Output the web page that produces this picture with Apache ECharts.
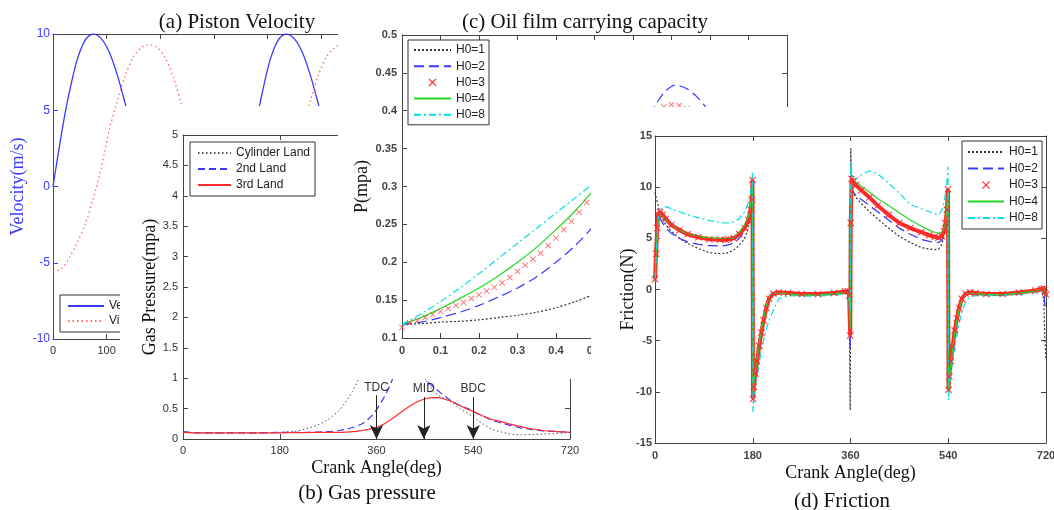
<!DOCTYPE html>
<html><head><meta charset="utf-8">
<script src="https://cdn.jsdelivr.net/npm/echarts@6/dist/echarts.min.js"></script>
<style>html,body{margin:0;padding:0;background:#fff}#c{width:1054px;height:510px}</style>
</head><body><div id="c"></div>
<script>
// ---------- (a) Piston velocity ----------
const velAngle = [0,10,20,30,45,60,75,90,105,120,135,150,165,180,210,240,270,300,330,360,370,380,390,405,420,435,450,465,480,495,510,525,540,570,600,630,660,690,720];
const velocity = [0,2.2,4.3,6.1,8.3,9.6,10,9.7,8.8,7.3,5.4,3.4,1.7,0,-4,-7,-8,-7.3,-4.5,0,2.2,4.3,6.1,8.3,9.6,10,9.7,8.8,7.3,5.4,3.4,1.7,0,-4,-7,-8,-7.3,-4.5,0];
const visAngle = [0,15,30,45,60,75,90,105,120,135,150,165,180,195,210,225,240,255,270,300,330,360,375,390,405,420,435,450,465,480,495,510,525,540,555,570,600,660,720];
const viscous = [-5.6,-5.4,-4.7,-3.7,-2.5,-0.8,1.2,3.7,5.6,7.3,8.5,9.1,9.3,9.1,8.4,7.1,5.3,3.0,0.5,-3,-5,-5.6,-5.4,-4.7,-3.7,-2.5,-0.8,1.2,3.7,5.6,7.3,8.5,9.1,9.3,9.1,8.4,5.3,-3,-5.6];

// ---------- (b) Gas pressure ----------
const gasAngle = [0,30,60,90,120,150,180,210,230,250,270,290,305,315,325,335,345,355,365,375,385,395,410,425,440,455,465,475,485,500,515,530,545,560,575,590,610,630,650,670,690,710,720];
const cylinderLand = [0.11,0.1,0.1,0.1,0.1,0.1,0.11,0.13,0.17,0.23,0.32,0.47,0.64,0.78,0.95,1.2,1.7,2.6,3.5,3.8,3.3,2.6,1.9,1.4,1.1,0.92,0.8,0.72,0.67,0.6,0.5,0.42,0.33,0.24,0.16,0.12,0.08,0.07,0.075,0.08,0.09,0.1,0.11];
const secondLand = [0.12,0.1,0.1,0.1,0.1,0.1,0.11,0.11,0.11,0.115,0.12,0.14,0.165,0.19,0.22,0.26,0.33,0.42,0.55,0.7,0.88,1.1,1.35,1.3,1.12,0.95,0.86,0.79,0.72,0.62,0.55,0.5,0.43,0.37,0.31,0.27,0.22,0.18,0.155,0.135,0.125,0.115,0.12];
const thirdLand = [0.11,0.1,0.1,0.1,0.1,0.1,0.1,0.105,0.105,0.11,0.11,0.11,0.115,0.12,0.13,0.14,0.16,0.18,0.21,0.25,0.31,0.37,0.47,0.56,0.63,0.67,0.68,0.68,0.66,0.62,0.55,0.49,0.43,0.37,0.32,0.29,0.24,0.2,0.165,0.14,0.125,0.115,0.11];
const gasMarkNames = ['TDC','MID','BDC'];
const gasMarkAngles = [360,448,540];
const gasMarkTops = [0.72,0.69,0.69];

// ---------- (c) Oil film carrying capacity ----------
const pX  = [0,0.05,0.1,0.15,0.2,0.25,0.3,0.35,0.4,0.45,0.5];
const pH1 = [0.118,0.119,0.121,0.122,0.124,0.127,0.13,0.134,0.14,0.148,0.158];
const pH4 = [0.118,0.127,0.139,0.152,0.166,0.182,0.2,0.22,0.243,0.268,0.297];
const pH8 = [0.118,0.132,0.148,0.166,0.185,0.205,0.225,0.245,0.265,0.285,0.305];
const pH2X = [0,0.05,0.1,0.15,0.2,0.25,0.3,0.35,0.4,0.45,0.5,0.56,0.62,0.66,0.685,0.71,0.74,0.765,0.79,0.83];
const pH2  = [0.118,0.121,0.127,0.134,0.143,0.154,0.166,0.181,0.2,0.222,0.25,0.3,0.37,0.409,0.426,0.434,0.429,0.419,0.404,0.37];
const pH3X = [0,0.02,0.04,0.06,0.08,0.1,0.12,0.14,0.16,0.18,0.2,0.22,0.24,0.26,0.28,0.3,0.32,0.34,0.36,0.38,0.4,0.42,0.44,0.46,0.48,0.64,0.66,0.68,0.7,0.72,0.74,0.76];
const pH3  = [0.114,0.12,0.123,0.127,0.131,0.135,0.139,0.143,0.147,0.152,0.157,0.162,0.167,0.173,0.18,0.188,0.196,0.204,0.212,0.222,0.232,0.243,0.254,0.266,0.279,0.39,0.398,0.405,0.408,0.407,0.403,0.396];

// ---------- (d) Friction ----------
const fAngle = [0,2,4,6,9,14,20,30,45,60,80,100,120,130,135,145,155,165,172,176,178.5,179.5,
  180.5,182,185,188,192,196,200,205,210,218,228,245,270,300,330,350,355,357.5,359.5,
  360.5,362,365,370,380,395,410,430,450,470,490,505,515,522,528,532,535,537.5,539.5,
  540.5,542,545,548,552,556,560,565,572,580,590,610,640,670,700,712,716,718,720];
const fH1 = [9.5,9.0,8.6,8.2,7.5,6.9,6.3,5.7,5.0,4.5,4.0,3.6,3.5,3.55,3.6,3.85,4.3,5.0,6.0,7.3,8.6,9.8,
  -9.0,-8.4,-7.3,-6.3,-4.8,-3.6,-2.5,-1.4,-0.7,-0.35,-0.3,-0.35,-0.45,-0.45,-0.3,-0.15,-0.3,-2.0,-11.8,
  13.8,10.2,9.5,9.0,8.4,7.6,6.9,6.0,5.2,4.6,4.1,3.95,3.9,3.95,4.4,5.2,6.3,7.6,9.0,
  -8.8,-7.8,-6.5,-5.2,-3.7,-2.5,-1.6,-0.8,-0.35,-0.3,-0.35,-0.4,-0.4,-0.3,-0.1,0,-1.0,-5.0,-6.8];
const fH2 = [3.5,5.5,7.3,7.5,7.0,6.5,6.0,5.5,5.0,4.65,4.4,4.3,4.25,4.3,4.35,4.55,5.0,5.7,6.6,7.7,8.7,10.0,
  -9.6,-8.8,-7.6,-6.6,-5.0,-3.8,-2.7,-1.6,-0.8,-0.4,-0.35,-0.4,-0.5,-0.5,-0.35,-0.2,-0.2,-1.5,-5.8,
  4.5,9.8,9.5,9.2,8.8,8.2,7.6,6.8,6.0,5.4,4.9,4.7,4.6,4.6,4.8,5.4,6.4,7.8,9.4,
  -9.2,-8.2,-6.8,-5.4,-3.9,-2.7,-1.7,-0.85,-0.4,-0.3,-0.35,-0.45,-0.45,-0.3,-0.1,0,-0.4,-1.5,-1.8];
const fH3 = [1.0,3.5,6.0,7.3,7.6,7.3,6.9,6.3,5.8,5.4,5.1,4.9,4.85,4.85,4.9,5.0,5.4,6.0,6.8,7.8,8.8,10.7,
  -10.7,-9.5,-8.2,-7.0,-5.5,-4.2,-3.0,-1.8,-0.9,-0.4,-0.3,-0.35,-0.45,-0.45,-0.35,-0.2,-0.15,-0.6,-4.5,
  6.5,10.8,10.6,10.2,9.7,9.0,8.2,7.3,6.5,6.0,5.6,5.3,5.15,5.05,5.2,5.7,6.5,7.8,9.8,
  -9.8,-8.5,-7.0,-5.6,-4.0,-2.8,-1.8,-0.9,-0.4,-0.3,-0.35,-0.45,-0.45,-0.3,-0.1,0.05,0.1,-0.3,-0.5];
const fH4 = [0.8,3.0,5.5,6.8,7.5,7.2,6.8,6.3,5.8,5.45,5.2,5.05,5.0,5.0,5.0,5.05,5.6,6.3,7.1,8.2,9.2,10.2,
  -10.0,-9.0,-7.8,-6.7,-5.2,-3.9,-2.8,-1.6,-0.8,-0.4,-0.35,-0.45,-0.55,-0.55,-0.4,-0.3,-0.3,-1.0,-3.8,
  5.0,10.6,10.8,10.5,10.1,9.5,8.9,8.2,7.5,6.8,6.2,5.8,5.6,5.5,5.6,6.0,6.8,8.0,9.6,
  -10.0,-8.8,-7.2,-5.8,-4.2,-3.0,-2.0,-1.0,-0.45,-0.35,-0.4,-0.5,-0.5,-0.35,-0.15,0,0.05,-0.2,-0.4];
const fH8 = [1.0,3.0,5.5,7.0,7.7,8.0,8.1,7.9,7.6,7.3,7.0,6.75,6.55,6.5,6.5,6.6,6.9,7.6,8.5,9.5,10.5,11.4,
  -12.0,-10.5,-9.5,-8.5,-7.2,-6.0,-5.0,-3.9,-3.0,-2.0,-0.9,-0.6,-0.65,-0.65,-0.55,-0.45,-0.4,-0.8,-2.0,
  12.4,11.5,10.6,10.8,11.2,11.6,11.3,10.4,9.4,8.3,7.9,7.6,7.4,7.3,7.7,8.5,9.4,10.5,12.0,
  -10.8,-9.5,-8.2,-7.0,-5.6,-4.4,-3.3,-2.2,-1.2,-0.7,-0.6,-0.6,-0.6,-0.5,-0.3,-0.2,-0.2,-0.5,-0.8];

// ---------- styling helpers ----------
const SANS = 'Liberation Sans, Arial, sans-serif';
const SERIF = 'Liberation Serif, Times New Roman, serif';
const AX = '#444';
const BLUE = '#3a3aff', RED = '#ff2a2a', GREEN = '#22d822', CYAN = '#00e0e0', BLACK = '#333';
const xPath = 'path://M0,1L1,0L5,4L9,0L10,1L6,5L10,9L9,10L5,6L1,10L0,9L4,5Z';
const pairs = (xs, ys) => xs.map((x, i) => [x, ys[i]]);

function axisBase(z, opts) {
  return Object.assign({
    type: 'value', z: z, nameMoveOverlap: false,
    splitLine: {show: false},
    axisLine: {show: true, onZero: false, lineStyle: {color: AX, width: 1}},
    axisTick: {show: true, inside: true, length: 5, lineStyle: {color: AX}},
    axisLabel: {show: true, color: '#333', fontFamily: SANS, fontSize: 11, margin: 6, showMinLabel: true, showMaxLabel: true}
  }, opts);
}
function mirror(z, gi, pos, min, max, interval) {
  const o = axisBase(z, {gridIndex: gi, position: pos, min: min, max: max, interval: interval});
  o.axisLabel = {show: false};
  return o;
}
const nameStyle = (c) => ({fontFamily: SERIF, fontSize: 18, color: c || '#111'});
const titleStyle = (t) => ({text: t, font: '21px ' + SERIF, fill: '#111', align: 'center', verticalAlign: 'middle', textAlign: 'center', textVerticalAlign: 'middle'});

const lineOnly = n => ({name: n, itemStyle: {opacity: 0}});
const legendText = {fontFamily: SANS, fontSize: 12, color: '#222', lineHeight: 14};

const chart = echarts.init(document.getElementById('c'), null, {renderer: 'canvas'});
chart.setOption({
  animation: false,
  backgroundColor: '#fff',
  grid: [
    {left: 53, top: 34, width: 386, height: 305, z: 1, outerBoundsMode: 'none'},
    {left: 183, top: 135, width: 387, height: 304, z: 11, outerBoundsMode: 'none'},
    {left: 402, top: 35, width: 385, height: 303, z: 21, outerBoundsMode: 'none'},
    {left: 655, top: 136, width: 391, height: 307, z: 31, outerBoundsMode: 'none'}
  ],
  xAxis: [
    axisBase(1, {gridIndex: 0, position: 'bottom', min: 0, max: 720, interval: 100}),
    mirror(1, 0, 'top', 0, 720, 100),
    axisBase(11, {gridIndex: 1, position: 'bottom', min: 0, max: 720, interval: 180,
      name: 'Crank Angle(deg)', nameLocation: 'middle', nameGap: 20, nameTextStyle: nameStyle()}),
    mirror(11, 1, 'top', 0, 720, 180),
    axisBase(21, {gridIndex: 2, position: 'bottom', min: 0, max: 1, interval: 0.1,
      axisLabel: {color: '#444', fontFamily: SANS, fontSize: 11, fontWeight: 'bold', margin: 7, showMinLabel: true, showMaxLabel: true}}),
    mirror(21, 2, 'top', 0, 1, 0.1),
    axisBase(31, {gridIndex: 3, position: 'bottom', min: 0, max: 720, interval: 180,
      name: 'Crank Angle(deg)', nameLocation: 'middle', nameGap: 21, nameTextStyle: nameStyle(),
      axisLabel: {color: '#444', fontFamily: SANS, fontSize: 11, fontWeight: 'bold', margin: 7, showMinLabel: true, showMaxLabel: true}}),
    mirror(31, 3, 'top', 0, 720, 180)
  ],
  yAxis: [
    axisBase(1, {gridIndex: 0, position: 'left', min: -10, max: 10, interval: 5,
      name: 'Velocity(m/s)', nameLocation: 'middle', nameGap: 26, nameTextStyle: nameStyle(BLUE),
      axisLine: {show: true, onZero: false, lineStyle: {color: BLUE, width: 1}},
      axisTick: {show: true, inside: true, length: 5, lineStyle: {color: BLUE}},
      axisLabel: {color: BLUE, fontFamily: SANS, fontSize: 12, margin: 3, showMinLabel: true, showMaxLabel: true}}),
    axisBase(11, {gridIndex: 1, position: 'left', min: 0, max: 5, interval: 0.5,
      name: 'Gas Pressure(mpa)', nameLocation: 'middle', nameGap: 24, nameTextStyle: nameStyle(),
      axisLabel: {color: '#333', fontFamily: SANS, fontSize: 11, margin: 5, showMinLabel: true, showMaxLabel: true}}),
    mirror(11, 1, 'right', 0, 5, 0.5),
    axisBase(21, {gridIndex: 2, position: 'left', min: 0.1, max: 0.5, interval: 0.05,
      name: 'P(mpa)', nameLocation: 'middle', nameGap: 31, nameTextStyle: nameStyle(),
      axisLabel: {color: '#444', fontFamily: SANS, fontSize: 11, fontWeight: 'bold', margin: 5, showMinLabel: true, showMaxLabel: true}}),
    mirror(21, 2, 'right', 0.1, 0.5, 0.05),
    axisBase(31, {gridIndex: 3, position: 'left', min: -15, max: 15, interval: 5,
      name: 'Friction(N)', nameLocation: 'middle', nameGap: 18, nameTextStyle: nameStyle(),
      axisLabel: {color: '#444', fontFamily: SANS, fontSize: 11, fontWeight: 'bold', margin: 3, showMinLabel: true, showMaxLabel: true}}),
    mirror(31, 3, 'right', -15, 15, 5)
  ],
  legend: [
    {orient: 'vertical', left: 60, top: 295, itemWidth: 36, itemHeight: 8, itemGap: 1, padding: [4, 60, 4, 7],
      borderColor: '#333', borderWidth: 1, backgroundColor: '#fff', textStyle: legendText, z: 3,
      data: [lineOnly('Velocity'), lineOnly('Viscosity')]},
    {orient: 'vertical', left: 190, top: 142, itemWidth: 33, itemHeight: 8, itemGap: 2, padding: [4, 5, 4, 7],
      borderColor: '#333', borderWidth: 1, backgroundColor: '#fff', textStyle: legendText, z: 13,
      data: [lineOnly('Cylinder Land'), lineOnly('2nd Land'), lineOnly('3rd Land')]},
    {orient: 'vertical', left: 408, top: 40, itemWidth: 37, itemHeight: 8, itemGap: 2.2, padding: [3, 4, 3, 5],
      borderColor: '#333', borderWidth: 1, backgroundColor: '#fff', textStyle: legendText, z: 23,
      data: [lineOnly('H0=1'), lineOnly('H0=2'), {name: 'H0=3', icon: xPath, itemStyle: {color: RED, opacity: 1}}, lineOnly('H0=4'), lineOnly('H0=8')]},
    {orient: 'vertical', left: 962, top: 141, itemWidth: 36, itemHeight: 8, itemGap: 2.5, padding: [4, 4, 4, 5],
      borderColor: '#333', borderWidth: 1, backgroundColor: '#fff', textStyle: legendText, z: 33,
      data: [lineOnly('H0=1'), lineOnly('H0=2'), {name: 'H0=3', icon: xPath, itemStyle: {color: RED, opacity: 1}}, lineOnly('H0=4'), lineOnly('H0=8')]}
  ],
  graphic: [
    {type: 'text', x: 237, y: 22, z: 5, silent: true, style: titleStyle('(a) Piston Velocity')},
    {type: 'rect', shape: {x: 120, y: 106, width: 470, height: 404}, style: {fill: '#fff'}, z: 10, silent: true},
    {type: 'text', x: 367, y: 493, z: 15, silent: true, style: titleStyle('(b) Gas pressure')},
    {type: 'rect', shape: {x: 338, y: 0, width: 460, height: 379}, style: {fill: '#fff'}, z: 20, silent: true},
    {type: 'text', x: 585, y: 22, z: 25, silent: true, style: titleStyle('(c) Oil film carrying capacity')},
    {type: 'rect', shape: {x: 591, y: 107, width: 463, height: 403}, style: {fill: '#fff'}, z: 30, silent: true},
    {type: 'text', x: 842, y: 501, z: 35, silent: true, style: titleStyle('(d) Friction')}
  ],
  series: [
    // (a)
    {name: 'Velocity', type: 'line', xAxisIndex: 0, yAxisIndex: 0, z: 2, symbol: 'none', smooth: 0.3,
      data: pairs(velAngle, velocity), lineStyle: {color: BLUE, width: 1.3}, itemStyle: {color: BLUE}},
    {name: 'Viscosity', type: 'line', xAxisIndex: 0, yAxisIndex: 0, z: 2, symbol: 'none', smooth: 0.3,
      data: pairs(visAngle, viscous), lineStyle: {color: '#ff6a6a', width: 1.3, type: [1.5, 3]}, itemStyle: {color: '#ff6a6a'}},
    // (b)
    {name: 'Cylinder Land', type: 'line', xAxisIndex: 2, yAxisIndex: 1, z: 12, symbol: 'none', smooth: 0.3,
      data: pairs(gasAngle, cylinderLand), lineStyle: {color: '#555', width: 1, type: [1.5, 2.5]}, itemStyle: {color: '#555'}},
    {name: '2nd Land', type: 'line', xAxisIndex: 2, yAxisIndex: 1, z: 12, symbol: 'none', smooth: 0.3,
      data: pairs(gasAngle, secondLand), lineStyle: {color: BLUE, width: 1.2, type: [7, 4]}, itemStyle: {color: BLUE}},
    {name: '3rd Land', type: 'line', xAxisIndex: 2, yAxisIndex: 1, z: 12, symbol: 'none', smooth: 0.3,
      data: pairs(gasAngle, thirdLand), lineStyle: {color: RED, width: 1.2}, itemStyle: {color: RED},
      markLine: {
        z: 14, silent: true, symbol: ['none', 'arrow'], symbolSize: [10, 14],
        lineStyle: {color: '#222', width: 1, type: 'solid'},
        itemStyle: {color: '#333'},
        label: {show: true, position: 'start', formatter: '{b}', color: '#333', fontFamily: SANS, fontSize: 12, distance: 2},
        data: gasMarkNames.map((n, i) => [{name: n, coord: [gasMarkAngles[i], gasMarkTops[i]]}, {coord: [gasMarkAngles[i], 0]}])
      }},
    // (c)
    {name: 'H0=1', type: 'line', xAxisIndex: 4, yAxisIndex: 3, z: 22, symbol: 'none', smooth: 0.3,
      data: pairs(pX, pH1), lineStyle: {color: BLACK, width: 1.2, type: [2, 2]}, itemStyle: {color: BLACK}},
    {name: 'H0=2', type: 'line', xAxisIndex: 4, yAxisIndex: 3, z: 22, symbol: 'none', smooth: 0.3,
      data: pairs(pH2X, pH2), lineStyle: {color: BLUE, width: 1.2, type: [10, 5]}, itemStyle: {color: BLUE}},
    {name: 'H0=3', type: 'scatter', xAxisIndex: 4, yAxisIndex: 3, z: 22, symbol: xPath, symbolSize: 6,
      data: pairs(pH3X, pH3), itemStyle: {color: '#ff4040'}},
    {name: 'H0=4', type: 'line', xAxisIndex: 4, yAxisIndex: 3, z: 22, symbol: 'none', smooth: 0.3,
      data: pairs(pX, pH4), lineStyle: {color: GREEN, width: 1.2}, itemStyle: {color: GREEN}},
    {name: 'H0=8', type: 'line', xAxisIndex: 4, yAxisIndex: 3, z: 22, symbol: 'none', smooth: 0.3,
      data: pairs(pX, pH8), lineStyle: {color: CYAN, width: 1.2, type: [7, 3, 2, 3]}, itemStyle: {color: CYAN}},
    // (d)
    {name: 'H0=1', type: 'line', xAxisIndex: 6, yAxisIndex: 5, z: 32, symbol: 'none',
      data: pairs(fAngle, fH1), lineStyle: {color: BLACK, width: 1.2, type: [2, 2]}, itemStyle: {color: BLACK}},
    {name: 'H0=2', type: 'line', xAxisIndex: 6, yAxisIndex: 5, z: 32, symbol: 'none',
      data: pairs(fAngle, fH2), lineStyle: {color: BLUE, width: 1.3, type: [10, 5]}, itemStyle: {color: BLUE}},
    {name: 'H0=3', type: 'line', xAxisIndex: 6, yAxisIndex: 5, z: 32, symbol: xPath, symbolSize: 7, showSymbol: true, showAllSymbol: true,
      data: pairs(fAngle, fH3), lineStyle: {color: RED, width: 4}, itemStyle: {color: RED}},
    {name: 'H0=4', type: 'line', xAxisIndex: 6, yAxisIndex: 5, z: 32, symbol: 'none',
      data: pairs(fAngle, fH4), lineStyle: {color: GREEN, width: 1.2}, itemStyle: {color: GREEN}},
    {name: 'H0=8', type: 'line', xAxisIndex: 6, yAxisIndex: 5, z: 32, symbol: 'none',
      data: pairs(fAngle, fH8), lineStyle: {color: CYAN, width: 1.2, type: [7, 3, 2, 3]}, itemStyle: {color: CYAN}}
  ]
});
</script>
</body></html>
